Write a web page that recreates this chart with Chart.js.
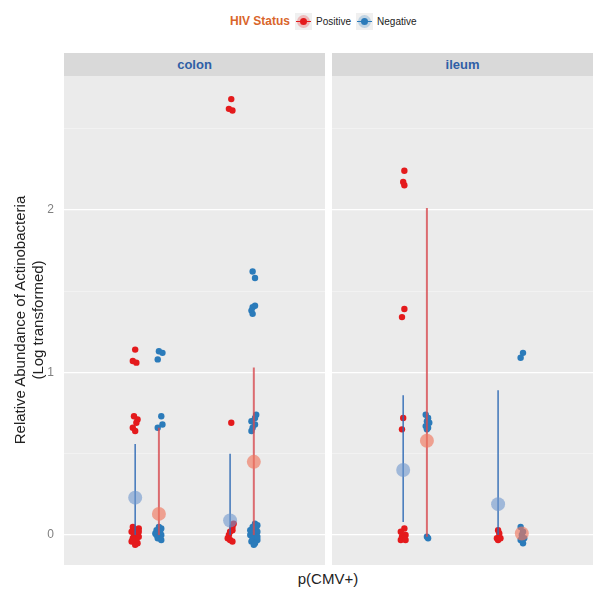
<!DOCTYPE html>
<html>
<head>
<meta charset="utf-8">
<script src="https://cdn.jsdelivr.net/npm/chart.js@4.4.0/dist/chart.umd.min.js"></script>
<style>
  body { margin: 0; background: #fff; font-family: "Liberation Sans", Arial, sans-serif; }
  #wrap { position: relative; width: 604px; height: 599px; overflow: hidden; }
  canvas { position: absolute; }
  .strip { position: absolute; top: 53px; height: 23px; background: #d9d9d9; color: #2f5fa6;
           font-weight: bold; font-size: 13px; line-height: 23px; text-align: center; }
  #legend { position: absolute; top: 12px; left: 230px; height: 18px; display: flex; align-items: center; font-size: 10px; color: #222; }
  #legend .ttl { color: #d9652b; font-weight: bold; font-size: 12px; margin-right: 5px; }
  .key { position: relative; width: 17px; height: 17px; background: #f0f0f0; margin-right: 4px; }
  .key .ln { position: absolute; left: 1px; right: 1px; top: 8px; height: 1.5px; }
  .key .dot { position: absolute; left: 5px; top: 5px; width: 7px; height: 7px; border-radius: 50%; }
  .key .halo { position: absolute; left: 2px; top: 2px; width: 13px; height: 13px; border-radius: 50%; opacity: 0.25; }
  #ytitle { position: absolute; left: -171px; top: 302px; width: 400px; height: 36px; transform: rotate(-90deg);
            text-align: center; font-size: 15px; line-height: 18px; color: #222; }
  #xtitle { position: absolute; left: 228px; top: 570px; width: 200px; text-align: center; font-size: 15px; line-height: 18px; color: #222; }
</style>
</head>
<body>
<div id="wrap">
  <div id="legend">
    <span class="ttl">HIV Status</span>
    <span class="key"><span class="halo" style="background:#e41a1c"></span><span class="ln" style="background:#e41a1c"></span><span class="dot" style="background:#e41a1c"></span></span>
    <span style="margin-right:5px">Positive</span>
    <span class="key"><span class="halo" style="background:#2b7bba"></span><span class="ln" style="background:#2b7bba"></span><span class="dot" style="background:#2b7bba"></span></span>
    <span>Negative</span>
  </div>
  <div class="strip" style="left:64px;width:261px">colon</div>
  <div class="strip" style="left:332px;width:261px">ileum</div>
  <canvas id="colonChart" width="325" height="489" style="left:0;top:76px"></canvas>
  <canvas id="ileumChart" width="261" height="489" style="left:332px;top:76px"></canvas>
  <div id="ytitle">Relative Abundance of Actinobacteria<br>(Log transformed)</div>
  <div id="xtitle">p(CMV+)</div>
</div>
<script>
// x positions of the four groups in each panel (Positive, Negative, Positive, Negative)
const groupX = [1.0, 1.2, 1.8, 2.0];
const yTicks = [0, 0.5, 1, 1.5, 2, 2.5];

// colon raw points (y) and horizontal jitter
const colonPos1Y = [1.14, 1.07, 1.06, 0.73, 0.71, 0.69, 0.66, 0.64, 0.05, 0.04, 0.03, 0.02, 0.01, 0.00, -0.01, -0.02, -0.03, -0.04, -0.05, -0.06, 0.02, -0.03];
const colonPos1Jit = [0.00, -0.02, 0.01, -0.01, 0.02, 0.01, -0.02, 0.00, -0.02, 0.03, 0.01, -0.03, 0.02, -0.01, 0.03, -0.02, 0.01, -0.03, 0.02, 0.00, 0.03, -0.02];
const colonNeg1Y = [1.13, 1.12, 1.08, 0.73, 0.68, 0.66, 0.05, 0.04, 0.03, 0.02, 0.01, 0.00, -0.01, -0.02, -0.03, 0.00];
const colonNeg1Jit = [0.00, 0.03, -0.01, 0.02, 0.03, -0.01, 0.00, 0.02, -0.02, 0.01, -0.03, 0.02, 0.00, -0.01, 0.02, -0.02];
const colonPos2Y = [2.68, 2.62, 2.61, 0.69, 0.07, 0.05, 0.03, 0.02, 0.00, -0.02, -0.03, -0.04];
const colonPos2Jit = [0.01, -0.01, 0.02, 0.01, 0.03, 0.02, 0.02, 0.00, -0.01, -0.02, 0.00, 0.02];
const colonNeg2Y = [1.62, 1.58, 1.41, 1.40, 1.38, 1.36, 0.74, 0.72, 0.70, 0.68, 0.66, 0.64, 0.07, 0.06, 0.05, 0.04, 0.03, 0.02, 0.01, 0.00, -0.01, -0.02, -0.03, -0.04, -0.05, -0.06, 0.03, -0.01];
const colonNeg2Jit = [-0.01, 0.01, 0.01, -0.01, -0.02, -0.01, 0.02, 0.01, -0.02, 0.01, -0.01, -0.02, 0.01, 0.03, -0.01, 0.02, -0.02, 0.03, 0.00, -0.03, 0.02, -0.01, 0.03, -0.02, 0.01, 0.00, -0.03, 0.03];

// ileum raw points
const ileumPos1Y = [2.24, 2.17, 2.15, 1.39, 1.34, 0.72, 0.65, 0.04, 0.02, 0.00, -0.01, -0.02, -0.03, -0.03];
const ileumPos1Jit = [0.01, 0.00, 0.01, 0.01, -0.01, 0.00, -0.01, 0.01, -0.02, 0.02, -0.01, 0.01, -0.02, 0.02];
const ileumNeg1Y = [0.74, 0.72, 0.70, 0.69, 0.67, 0.66, 0.65, -0.01, -0.02];
const ileumNeg1Jit = [-0.01, 0.01, 0.00, 0.02, -0.01, 0.01, 0.00, 0.00, 0.01];
const ileumPos2Y = [0.03, 0.01, -0.02, -0.03, -0.02];
const ileumPos2Jit = [0.00, 0.01, -0.01, 0.00, 0.02];
const ileumNeg2Y = [1.12, 1.09, 0.05, 0.02, 0.00, -0.02, -0.03, -0.05];
const ileumNeg2Jit = [0.01, -0.01, -0.01, 0.01, 0.00, 0.02, -0.01, 0.01];

// summaries per group: mean and vertical range
const colonMean = [0.23, 0.13, 0.09, 0.45];
const colonLow = [0.00, 0.00, 0.00, 0.00];
const colonHigh = [0.56, 0.66, 0.50, 1.03];
const ileumMean = [0.40, 0.58, 0.19, 0.01];
const ileumLow = [0.08, -0.01, 0.00, 0.01];
const ileumHigh = [0.86, 2.01, 0.89, 0.01];

const RED = '#e41a1c';
const BLUE = '#2b7bba';

const panelBg = {
    id: 'panelBg',
    beforeDraw(chart) {
        const { ctx, chartArea: a } = chart;
        ctx.save();
        ctx.fillStyle = '#ebebeb';
        ctx.fillRect(a.left, a.top, a.width, a.height);
        ctx.restore();
    }
};

function pts(x0, ys, jit) {
    return ys.map((y, i) => ({ x: x0 + jit[i], y: y }));
}

function buildDatasets(groups, mean, low, high) {
    const ds = [];
    // mean markers on top (order 0), ranges under them, raw points at the bottom
    groupX.forEach((x, i) => {
        const summaryIsBlue = i % 2 === 0;
        ds.push({
            data: [{ x: x, y: mean[i] }],
            pointRadius: 7,
            pointHoverRadius: 0,
            pointBackgroundColor: summaryIsBlue ? 'rgba(110,150,205,0.6)' : 'rgba(240,120,95,0.65)',
            pointBorderWidth: 0,
            order: 0
        });
        ds.push({
            data: [{ x: x, y: low[i] }, { x: x, y: high[i] }],
            showLine: true,
            pointRadius: 0,
            pointHoverRadius: 0,
            borderColor: summaryIsBlue ? 'rgba(45,105,180,0.85)' : 'rgba(215,75,80,0.8)',
            borderWidth: summaryIsBlue ? 1.6 : 2,
            order: 1
        });
    });
    groups.forEach((g, i) => {
        ds.push({
            data: pts(groupX[i], g[0], g[1]),
            pointRadius: 3.2,
            pointHoverRadius: 0,
            pointBackgroundColor: i % 2 === 0 ? RED : BLUE,
            pointBorderWidth: 0,
            order: 2
        });
    });
    return ds;
}

function makeChart(id, datasets, showLabels) {
    new Chart(document.getElementById(id).getContext('2d'), {
        type: 'scatter',
        data: { datasets: datasets },
        options: {
            responsive: false,
            animation: false,
            devicePixelRatio: 1,
            layout: { padding: 0, autoPadding: false },
            plugins: { legend: { display: false }, tooltip: { enabled: false } },
            scales: {
                x: { type: 'linear', min: 0.4, max: 2.6, display: false },
                y: {
                    type: 'linear',
                    min: -0.184,
                    max: 2.822,
                    afterBuildTicks: s => { s.ticks = yTicks.map(v => ({ value: v })); },
                    afterFit: s => {
                        s.width = showLabels ? 64 : 0;
                        s.paddingTop = 0;
                        s.paddingBottom = 0;
                    },
                    border: { display: false },
                    grid: {
                        drawTicks: false,
                        color: c => Number.isInteger(c.tick.value) ? '#ffffff' : 'rgba(255,255,255,0.6)',
                        lineWidth: c => Number.isInteger(c.tick.value) ? 1.3 : 0.6
                    },
                    ticks: {
                        display: showLabels,
                        padding: 10,
                        color: '#7f7f7f',
                        font: { family: '"Liberation Sans", Arial, sans-serif', size: 12 },
                        callback: v => Number.isInteger(v) ? String(v) : ''
                    }
                }
            }
        },
        plugins: [panelBg]
    });
}

makeChart('colonChart', buildDatasets(
    [[colonPos1Y, colonPos1Jit], [colonNeg1Y, colonNeg1Jit], [colonPos2Y, colonPos2Jit], [colonNeg2Y, colonNeg2Jit]],
    colonMean, colonLow, colonHigh), true);

makeChart('ileumChart', buildDatasets(
    [[ileumPos1Y, ileumPos1Jit], [ileumNeg1Y, ileumNeg1Jit], [ileumPos2Y, ileumPos2Jit], [ileumNeg2Y, ileumNeg2Jit]],
    ileumMean, ileumLow, ileumHigh), false);
</script>
</body>
</html>
